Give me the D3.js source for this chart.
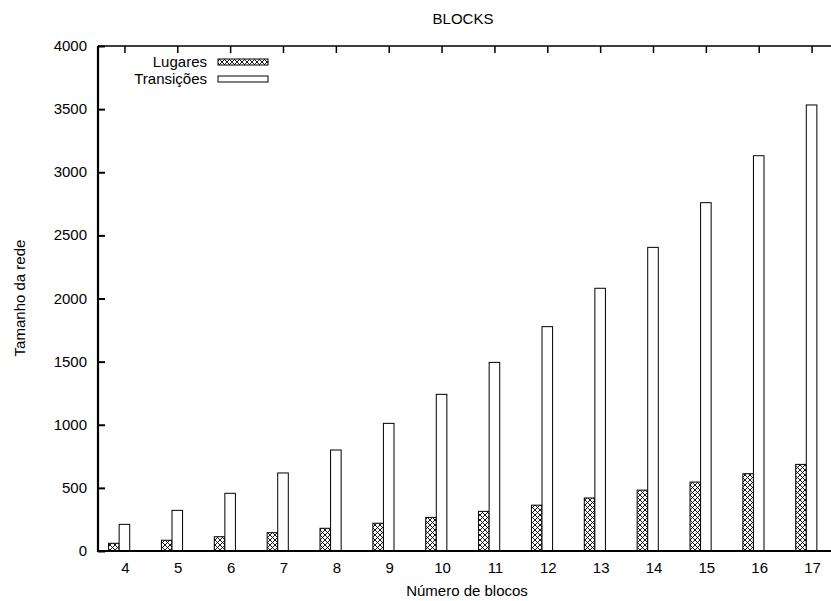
<!DOCTYPE html>
<html>
<head>
<meta charset="utf-8">
<script src="https://d3js.org/d3.v7.min.js"></script>
<style>
  body { margin: 0; background: white; }
  svg { display: block; font-family: "Liberation Sans", Arial, sans-serif; }
</style>
</head>
<body>
<svg></svg>
<script>
const blocos = [4, 5, 6, 7, 8, 9, 10, 11, 12, 13, 14, 15, 16, 17];
const lugares = [61, 85, 113, 145, 180, 220, 266, 314, 363, 420, 482, 546, 612, 686];
const transicoes = [211, 322, 457, 618, 800, 1011, 1241, 1494, 1777, 2081, 2405, 2759, 3131, 3533];
const yTicks = [0, 500, 1000, 1500, 2000, 2500, 3000, 3500, 4000];
const seriesNames = ["Lugares", "Transições"];

const W = 831, H = 601;
const plotL = 98, plotR = 838, plotT = 46, plotB = 551;

const svg = d3.select("svg")
  .attr("width", W)
  .attr("height", H);

// crosshatch like gnuplot fill pattern 2
const defs = svg.append("defs");
const pat = defs.append("pattern")
  .attr("id", "hatch")
  .attr("patternUnits", "userSpaceOnUse")
  .attr("width", 5)
  .attr("height", 5);
pat.append("rect").attr("width", 5).attr("height", 5).attr("fill", "white");
pat.append("path")
  .attr("d", "M0,0L5,5M5,0L0,5M-1,4L1,6M4,-1L6,1M-1,1L1,-1M4,6L6,4")
  .attr("stroke", "black")
  .attr("stroke-width", 0.9);

const x = d3.scaleLinear()
  .domain([3.5, 17.5])
  .range([plotL, plotR]);

const y = d3.scaleLinear()
  .domain([0, 4000])
  .range([plotB, plotT]);

const data = blocos.map((b, i) => ({ b, lug: lugares[i], tra: transicoes[i] }));

// bars
const bw = 0.2;
svg.append("g").selectAll("rect")
  .data(data)
  .join("rect")
  .attr("x", d => x(d.b - 0.1 - bw))
  .attr("y", d => y(d.lug))
  .attr("width", x(bw) - x(0))
  .attr("height", d => y(0) - y(d.lug))
  .attr("fill", "url(#hatch)")
  .attr("stroke", "black")
  .attr("stroke-width", 1);

svg.append("g").selectAll("rect")
  .data(data)
  .join("rect")
  .attr("x", d => x(d.b - 0.1))
  .attr("y", d => y(d.tra))
  .attr("width", x(bw) - x(0))
  .attr("height", d => y(0) - y(d.tra))
  .attr("fill", "white")
  .attr("stroke", "black")
  .attr("stroke-width", 1);

// axes (left + bottom with labels, top + right mirrored ticks)
const tickLen = 7;

const yAxis = svg.append("g")
  .attr("transform", `translate(${plotL},0)`)
  .call(d3.axisRight(y).tickValues(yTicks).tickSize(tickLen).tickFormat(""));
yAxis.select(".domain").remove();
yAxis.selectAll("line").attr("stroke-width", 2);

const yRight = svg.append("g")
  .attr("transform", `translate(${plotR},0)`)
  .call(d3.axisLeft(y).tickValues(yTicks).tickSize(tickLen).tickFormat(""));
yRight.select(".domain").remove();
yRight.selectAll("line").attr("stroke-width", 1.5);

const xTop = svg.append("g")
  .attr("transform", `translate(0,${plotT})`)
  .call(d3.axisBottom(x).tickValues(blocos).tickSize(tickLen).tickFormat(""));
xTop.select(".domain").remove();
xTop.selectAll("line").attr("stroke-width", 1.5);

svg.append("g").selectAll("text")
  .data(yTicks)
  .join("text")
  .attr("x", plotL - 11)
  .attr("y", d => y(d) + 5)
  .attr("text-anchor", "end")
  .style("font-size", "15px")
  .text(d => d);

svg.append("g").selectAll("text")
  .data(blocos)
  .join("text")
  .attr("x", d => x(d) + 1)
  .attr("y", plotB + 22)
  .attr("text-anchor", "middle")
  .style("font-size", "15px")
  .text(d => d);

// frame lines
svg.append("path")
  .attr("d", `M${plotL},${plotT}H${plotR}M${plotR},${plotT}V${plotB}`)
  .attr("stroke", "black")
  .attr("stroke-width", 1.5)
  .attr("fill", "none");
svg.append("path")
  .attr("d", `M${plotL},${plotT}V${plotB}H${plotR}`)
  .attr("stroke", "black")
  .attr("stroke-width", 2.2)
  .attr("fill", "none");

// titles
svg.append("text")
  .attr("x", 463)
  .attr("y", 24)
  .attr("text-anchor", "middle")
  .style("font-size", "15px")
  .text("BLOCKS");

svg.append("text")
  .attr("x", 467)
  .attr("y", 596)
  .attr("text-anchor", "middle")
  .style("font-size", "15px")
  .text("Número de blocos");

svg.append("text")
  .attr("transform", "rotate(-90)")
  .attr("x", -298)
  .attr("y", 25)
  .attr("text-anchor", "middle")
  .style("font-size", "15px")
  .text("Tamanho da rede");

// legend
const legend = svg.append("g")
  .attr("transform", "translate(207,62)");

seriesNames.forEach((name, i) => {
  const row = legend.append("g")
    .attr("transform", `translate(0,${i * 17})`);

  row.append("text")
    .attr("x", 0)
    .attr("y", 5)
    .attr("text-anchor", "end")
    .style("font-size", "15px")
    .text(name);

  row.append("rect")
    .attr("x", 11)
    .attr("y", -3)
    .attr("width", 50)
    .attr("height", 6)
    .attr("fill", i === 0 ? "url(#hatch)" : "white")
    .attr("stroke", "black")
    .attr("stroke-width", 1);
});
</script>
</body>
</html>
